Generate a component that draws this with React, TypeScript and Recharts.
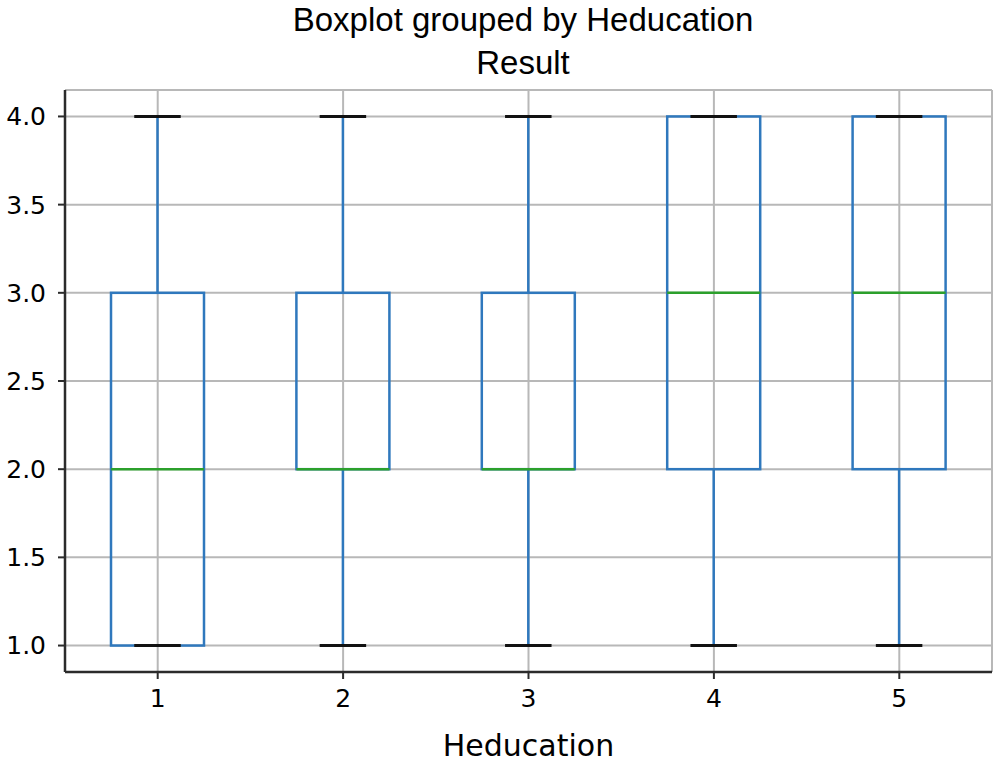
import { ComposedChart, CartesianGrid, XAxis, YAxis, Bar } from "recharts";

const categories = ["1", "2", "3", "4", "5"];
const whiskerLow = [1, 1, 1, 1, 1];
const q1 = [1, 2, 2, 2, 2];
const median = [2, 2, 2, 3, 3];
const q3 = [3, 3, 3, 4, 4];
const whiskerHigh = [4, 4, 4, 4, 4];
const yTicks = [1.0, 1.5, 2.0, 2.5, 3.0, 3.5, 4.0];

const data = categories.map((c, i) => ({
  name: c,
  range: [whiskerLow[i], whiskerHigh[i]],
  low: whiskerLow[i],
  q1: q1[i],
  median: median[i],
  q3: q3[i],
  high: whiskerHigh[i],
}));

const BLUE = "#2f78bd";
const GREEN = "#2ca02c";
const AXIS = "#2b2b2b";
const tickFont = { fontFamily: "DejaVu Sans", fontSize: 25, fill: "#000" };

function BoxShape(props: any) {
  const { x, y, width, height, payload } = props;
  const top = Math.min(y, y + height);
  const bottom = Math.max(y, y + height);
  const { low, high } = payload;
  const toPx = (v: number) => top + ((high - v) / (high - low)) * (bottom - top);
  const cx = x + width / 2;
  const capHalf = width / 4;
  const yQ1 = toPx(payload.q1);
  const yQ3 = toPx(payload.q3);
  const yMed = toPx(payload.median);
  return (
    <g>
      <line x1={cx} x2={cx} y1={yQ3} y2={top} stroke={BLUE} strokeWidth={2.5} />
      <line x1={cx} x2={cx} y1={yQ1} y2={bottom} stroke={BLUE} strokeWidth={2.5} />
      <rect x={x} y={yQ3} width={width} height={yQ1 - yQ3} fill="none" stroke={BLUE} strokeWidth={2.5} />
      <line x1={x} x2={x + width} y1={yMed} y2={yMed} stroke={GREEN} strokeWidth={2.5} />
      <line x1={cx - capHalf} x2={cx + capHalf} y1={top} y2={top} stroke="#111" strokeWidth={3} />
      <line x1={cx - capHalf} x2={cx + capHalf} y1={bottom} y2={bottom} stroke="#111" strokeWidth={3} />
    </g>
  );
}

export default function App() {
  return (
    <div style={{ position: "absolute", left: 0, top: 0, width: 1000, height: 764, background: "#fff" }}>
      <div
        style={{
          position: "absolute",
          left: 0,
          width: 1046,
          top: 2,
          textAlign: "center",
          fontFamily: "Liberation Sans",
          fontSize: 33,
          lineHeight: "36px",
          color: "#000",
        }}
      >
        <div>Boxplot grouped by Heducation</div>
        <div style={{ marginTop: 7 }}>Result</div>
      </div>
      <ComposedChart
        width={1000}
        height={764}
        data={data}
        margin={{ top: 90, right: 8, left: 0, bottom: 0 }}
        style={{ position: "absolute", left: 0, top: 0 }}
      >
        <CartesianGrid stroke="#b8b8b8" strokeWidth={2} />
        <XAxis
          dataKey="name"
          height={92}
          tickSize={7}
          tickMargin={10}
          tick={tickFont}
          stroke={AXIS}
          axisLine={{ stroke: AXIS, strokeWidth: 2.5 }}
          tickLine={{ stroke: AXIS, strokeWidth: 2 }}
          label={{ value: "Heducation", position: "insideBottom", offset: 8, style: { fontFamily: "DejaVu Sans", fontSize: 30, fill: "#000" } }}
        />
        <XAxis xAxisId="top" dataKey="name" orientation="top" height={0} tick={false} tickLine={false} axisLine={{ stroke: AXIS, strokeWidth: 2.5 }} />
        <YAxis
          width={65}
          domain={[0.85, 4.15]}
          ticks={yTicks}
          tickFormatter={(v: number) => v.toFixed(1)}
          tickSize={7}
          tickMargin={12}
          tick={tickFont}
          axisLine={{ stroke: AXIS, strokeWidth: 2.5 }}
          tickLine={{ stroke: AXIS, strokeWidth: 2 }}
        />
        <YAxis yAxisId="right" orientation="right" width={0} tick={false} tickLine={false} axisLine={{ stroke: AXIS, strokeWidth: 2.5 }} />
        <Bar dataKey="range" barSize={93} shape={BoxShape} isAnimationActive={false} />
      </ComposedChart>
    </div>
  );
}
